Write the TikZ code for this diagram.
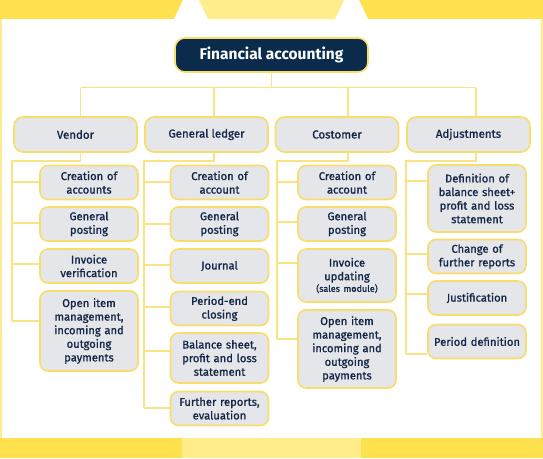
\documentclass[tikz,border=0pt]{standalone}
\usepackage{fontspec}
\setmainfont{Fira Sans}
\newfontfamily\boxfont{Fira Sans}[UprightFeatures={FakeBold=1.2}]
\usetikzlibrary{positioning}
\definecolor{bandDark}{HTML}{FFE14F}
\definecolor{bandLight}{HTML}{FFEC8A}
\definecolor{frameLine}{HTML}{FFEB8F}
\definecolor{boxLine}{HTML}{F8DD6B}
\definecolor{boxFill}{HTML}{E5E6E9}
\definecolor{connLine}{HTML}{F9E383}
\definecolor{navy}{HTML}{0B2B4D}
\definecolor{ink}{HTML}{142747}

\tikzset{
  titlebox/.style={draw=boxLine,fill=navy,line width=1.6pt,rounded corners=10pt,minimum width=193pt,minimum height=34pt,text=white,font=\fontsize{15.5}{17}\selectfont\bfseries},
  catbox/.style={draw=boxLine,fill=boxFill,line width=1.6pt,rounded corners=9pt,minimum width=123pt,minimum height=35pt,text=ink,font=\boxfont\fontsize{11.5}{13}\selectfont},
  leafbox/.style={draw=boxLine,fill=boxFill,line width=1.6pt,rounded corners=8pt,minimum width=98pt,text width=92pt,inner xsep=2pt,inner ysep=3pt,minimum height=34pt,align=center,text=ink,font=\boxfont\fontsize{11.2}{13.6}\selectfont},
  conn/.style={draw=connLine,line width=1.2pt}
}

\begin{document}
\begin{tikzpicture}[x=1pt,y=-1pt]
  \useasboundingbox (0,0) rectangle (543,458);
  % frame and bands
  \draw[frameLine,line width=2pt] (1,19) -- (1,438) (542,19) -- (542,438);
  \fill[bandDark] (0,0) rectangle (543,19);
  \fill[white] (174,19) -- (183,0) -- (359,0) -- (368,19) -- cycle;
  \fill[bandLight] (199,0) -- (344,0) -- (335,19) -- (208,19) -- cycle;
  \fill[bandDark] (0,438) rectangle (543,458);
  \fill[bandLight] (182,438) rectangle (361,458);

  % nodes
  \node[titlebox] (fin) at (271.5,55) {Financial accounting};
  \foreach \x/\n/\t in {75.5/ven/Vendor,206.5/gl/General ledger,337/cus/Costomer,468.5/adj/Adjustments}
    \node[catbox] (\n) at (\x,134.5) {\t};

  \node[leafbox] (ven1) at (89,182.5) {Creation of\\accounts};
  \node[leafbox] (ven2) at (89,224) {General\\posting};
  \node[leafbox] (ven3) at (89,266) {Invoice\\verification};
  \node[leafbox,minimum height=80pt] (ven4) at (89,331) {Open item\\management,\\incoming and\\outgoing\\payments};

  \node[leafbox] (gl1) at (219.5,182.5) {Creation of\\account};
  \node[leafbox] (gl2) at (219.5,224) {General\\posting};
  \node[leafbox] (gl3) at (219.5,266) {Journal};
  \node[leafbox] (gl4) at (219.5,308.5) {Period-end\\closing};
  \node[leafbox,minimum height=50pt] (gl5) at (219.5,358) {Balance sheet,\\profit and loss\\statement};
  \node[leafbox] (gl6) at (219.5,408.5) {Further reports,\\evaluation};

  \node[leafbox] (cus1) at (347,182.5) {Creation of\\account};
  \node[leafbox] (cus2) at (347,224) {General\\posting};
  \node[leafbox,minimum height=53pt] (cus3) at (347,275.5) {Invoice\\updating\\[-2pt]{\fontsize{9}{10}\selectfont(sales module)}};
  \node[leafbox,minimum height=78pt] (cus4) at (347,349) {Open item\\management,\\incoming and\\outgoing\\payments};

  \node[leafbox,minimum height=67pt] (adj1) at (477,198.5) {Definition of\\balance sheet+\\profit and loss\\statement};
  \node[leafbox] (adj2) at (477,256.5) {Change of\\further reports};
  \node[leafbox] (adj3) at (477,298) {Justification};
  \node[leafbox] (adj4) at (477,341.5) {Period definition};

  % connectors from the top node
  \coordinate (bus) at (271.5,87.5);
  \coordinate (venTap) at (80.5,87.5);
  \coordinate (adjTap) at (476,87.5);
  \coordinate (glTap) at (214,87.5);
  \coordinate (cusTap) at (348,87.5);
  \draw[conn] (fin) -- (bus);
  \draw[conn] (venTap) -- (adjTap);
  \foreach \n in {ven,gl,cus,adj}
    \draw[conn] (\n Tap) -- (\n Tap |- \n.north);

  % connectors to the leaves
  \foreach \n/\tx/\last/\ys in {ven/12/321/{ven1/182,ven2/223,ven3/264,ven4/321},
      gl/144/408/{gl1/182,gl2/224,gl3/265,gl4/307,gl5/351,gl6/408},
      cus/277/339/{cus1/182,cus2/222,cus3/263,cus4/339},
      adj/406/354/{adj1/181,adj2/254,adj3/294,adj4/354}}{
    \coordinate (\n Knee) at (\n Tap |- 0,161);
    \coordinate (\n Trunk) at (\tx,161);
    \coordinate (\n End) at (\tx,\last);
    \draw[conn] (\n Tap |- \n.south) -- (\n Knee) -- (\n Trunk) -- (\n End);
    \foreach \k/\y in \ys {
      \coordinate (b) at (\tx,\y);
      \draw[conn] (b) -- (b -| \k.west);}
  }
\end{tikzpicture}
\end{document}
